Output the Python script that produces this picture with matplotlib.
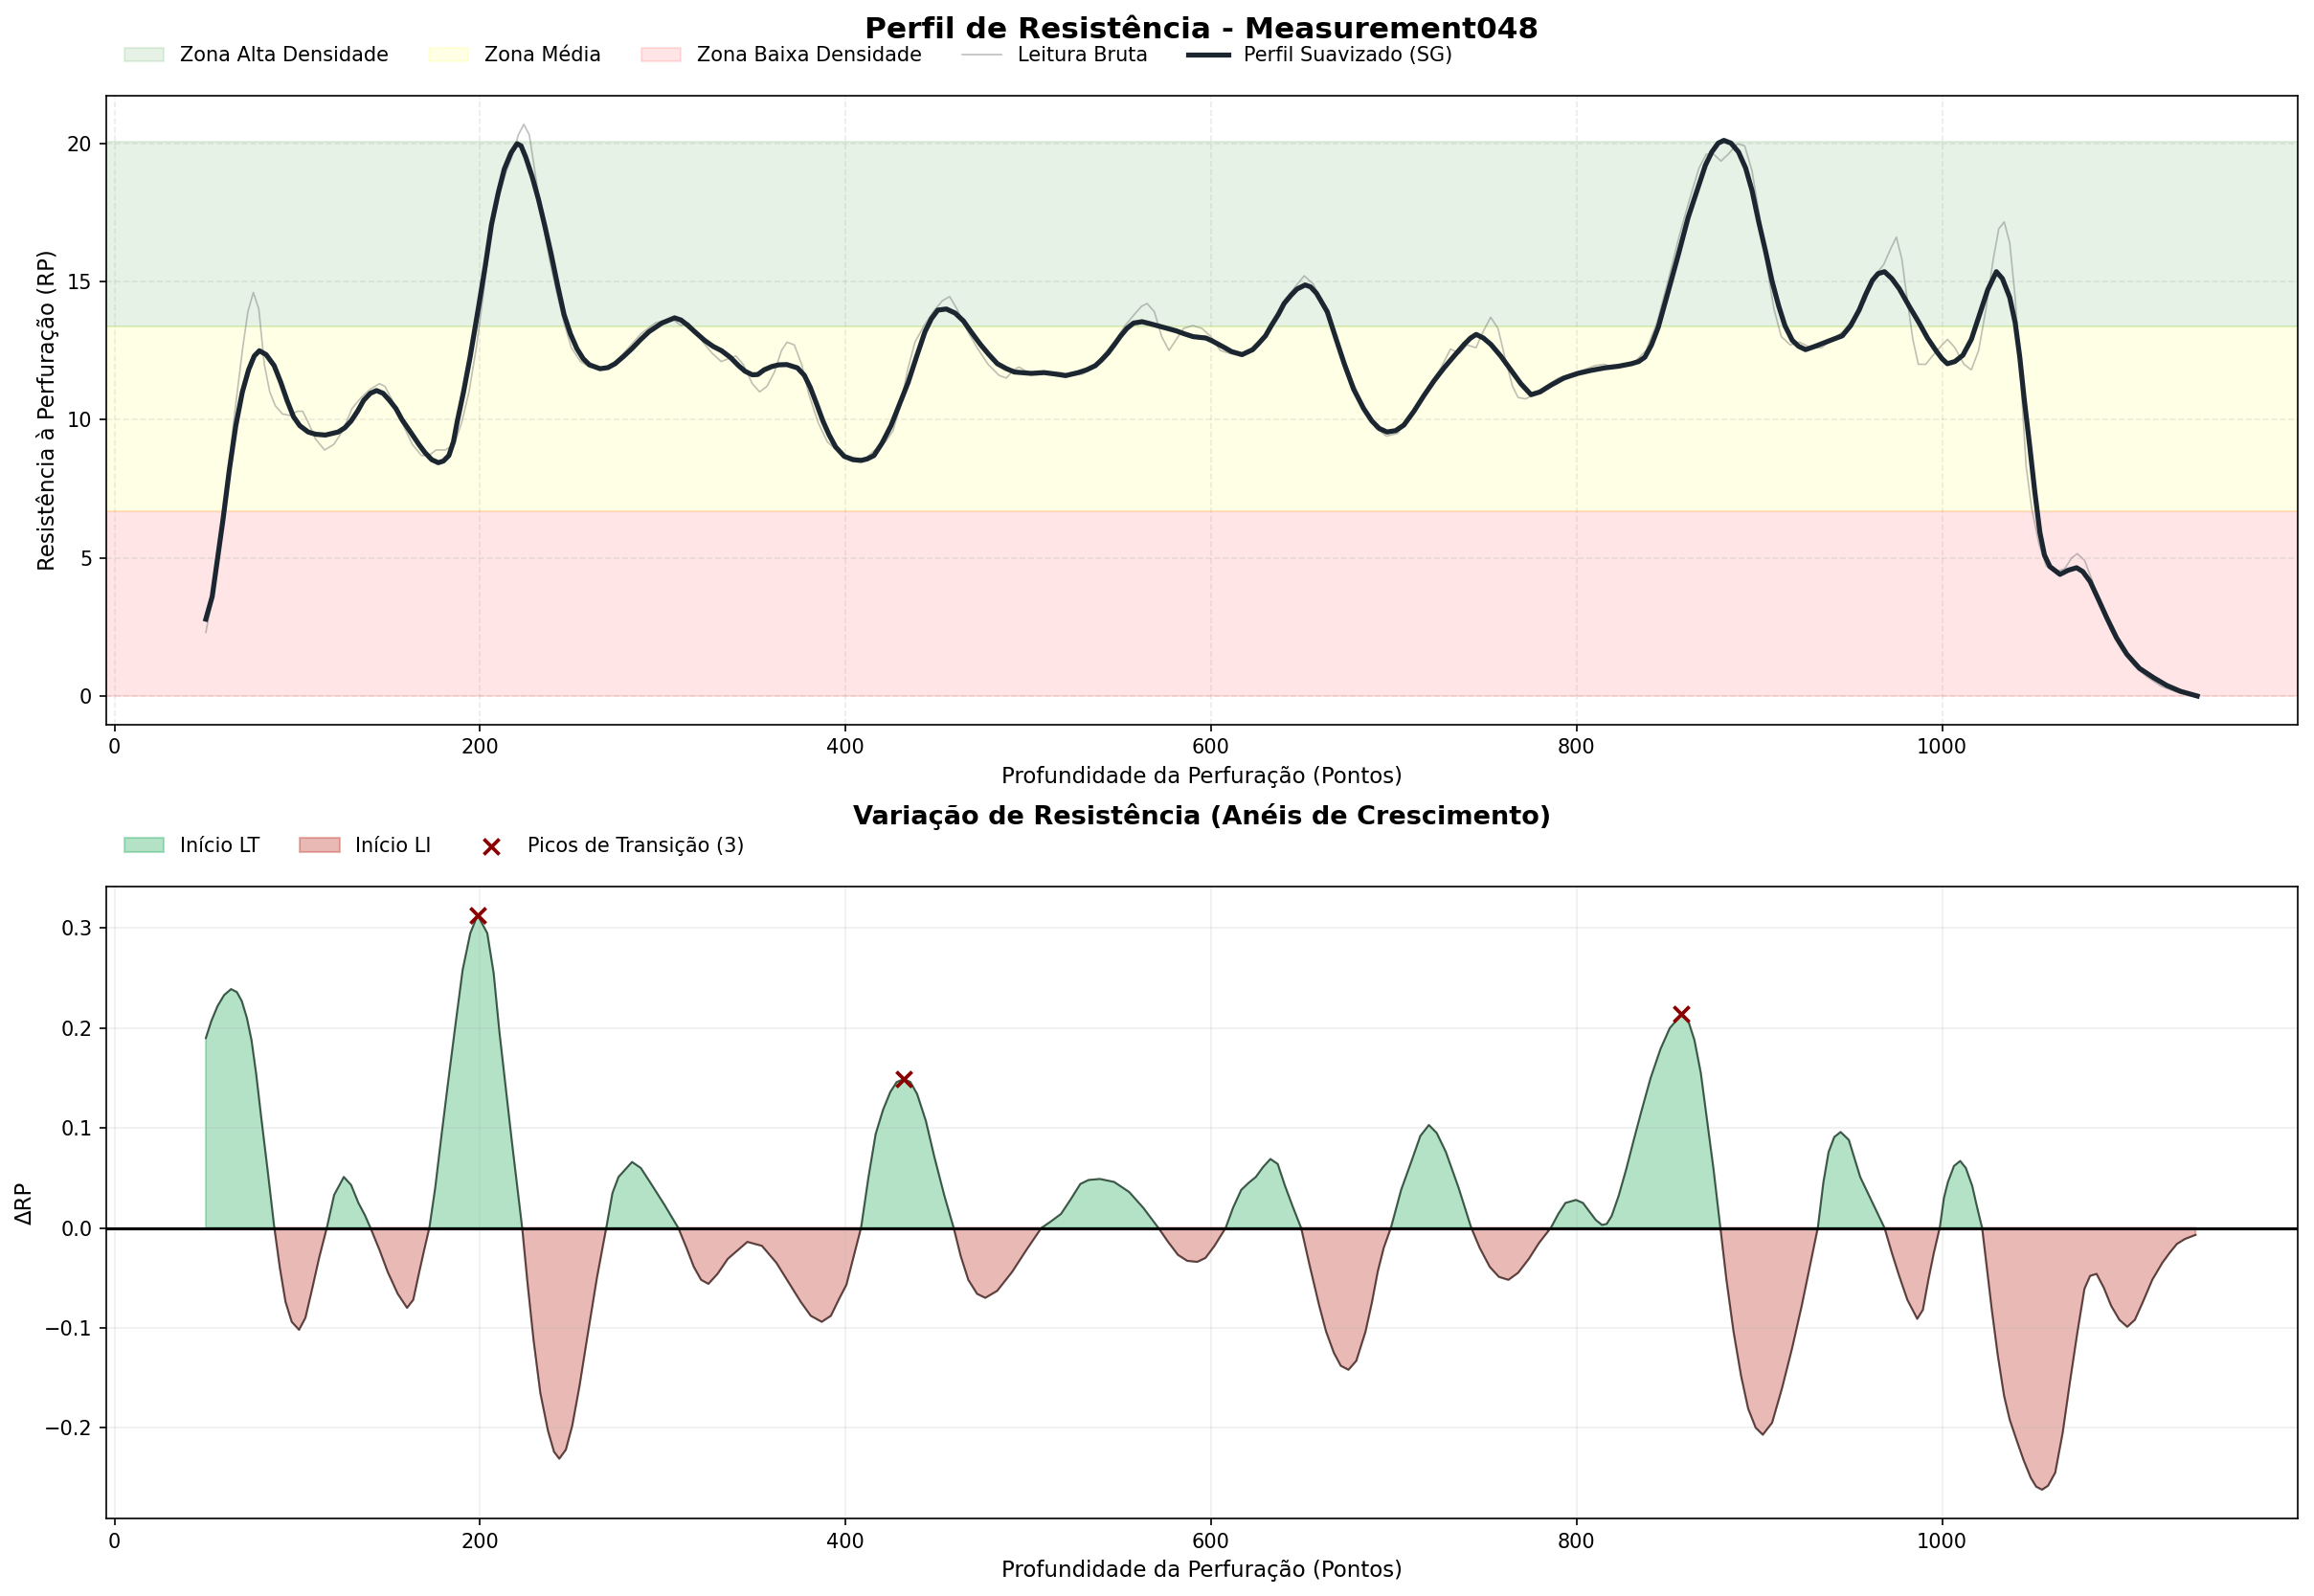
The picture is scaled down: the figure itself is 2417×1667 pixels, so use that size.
import numpy as np
import matplotlib
matplotlib.use("Agg")
import matplotlib.pyplot as plt

# ---- dados ----
# perfil suavizado (SG)
sg_x = [50, 53.5, 56.5, 59.4, 62.9, 66.4, 70, 73.4, 76.5, 79.3, 83, 87.4, 91, 94.4, 98, 101.4, 106, 110,
        115.4, 122.4, 126, 129.4, 133, 136.4, 140, 143.4, 147, 150.3, 154, 157.3, 162, 166.7, 170, 173.6,
        177.2, 180, 183, 185.5, 187.6, 191, 194.6, 199.3, 203, 206.3, 210, 213.3, 217, 220.3, 222.5, 225,
        228.5, 232, 235.5, 239, 242.5, 246, 249.5, 253, 256.5, 259.9, 265.7, 270, 273.9, 278.5, 283.2, 288,
        292.5, 299.5, 306.5, 310, 313.5, 318, 322.8, 327.5, 332.2, 337, 341.5, 345, 349, 352, 355.5, 359.7,
        363.5, 367.9, 373.7, 377.5, 380.7, 384, 387.7, 391, 394.6, 399.3, 404, 408.6, 412, 415.6, 420,
        424.9, 429.5, 434.2, 439, 443.5, 447, 450.5, 455.2, 460, 464.5, 469, 473.8, 478.5, 483.1, 487.8,
        492.4, 501.7, 508.7, 514.5, 520.4, 527.4, 532, 536.7, 540, 543.7, 547, 550.6, 554, 557.6, 562.3,
        566.5, 571.6, 576, 580.9, 585.5, 590.2, 597.2, 600.5, 604.2, 607.5, 611.2, 617, 622.8, 626, 629.8,
        633, 636.8, 640, 643.8, 647, 651.5, 654.5, 657.7, 663.6, 668.5, 673, 678, 683.5, 688, 692, 696.3,
        701, 705.5, 711, 716.5, 722, 727.5, 733, 738.5, 742, 745.1, 749, 753.1, 758.5, 764.1, 769.5, 775.1,
        780, 786.1, 793, 800.7, 808, 815.4, 823, 830, 834, 837.4, 841, 844.7, 850, 855.7, 861, 866.7, 870.5,
        874, 877.5, 880.6, 884.5, 888.6, 892.5, 896, 899.5, 903.3, 907, 910.6, 914, 918, 921.5, 925.3,
        930.5, 936.3, 941, 945.4, 950, 954.6, 958, 961.9, 965, 968.5, 972.5, 976.6, 982, 987.5, 992, 996.7,
        1000, 1002.9, 1007, 1011.4, 1016, 1020.5, 1025, 1029.7, 1033, 1037, 1040, 1042.5, 1045, 1048,
        1050.7, 1053.5, 1056, 1059, 1064.5, 1069, 1073.6, 1077, 1081, 1085.5, 1090.1, 1095.5, 1101.1, 1108,
        1115.8, 1123, 1130.4, 1139.6]
sg_y = [2.78, 3.6, 5.0, 6.38, 8.2, 9.78, 11.0, 11.8, 12.3, 12.49, 12.35, 11.95, 11.35, 10.7, 10.1, 9.78, 9.55, 9.47,
        9.44, 9.55, 9.7, 9.94, 10.3, 10.7, 10.95, 11.05, 10.95, 10.71, 10.4, 10.0, 9.55, 9.09, 8.8, 8.55,
        8.44, 8.5, 8.7, 9.2, 9.94, 11.0, 12.26, 14.1, 15.6, 17.05, 18.2, 19.06, 19.65, 19.98, 19.9, 19.5,
        18.8, 17.97, 17.0, 15.97, 14.85, 13.8, 13.1, 12.57, 12.2, 11.98, 11.84, 11.88, 12.02, 12.28, 12.57, 12.9,
        13.18, 13.49, 13.68, 13.6, 13.42, 13.15, 12.87, 12.65, 12.49, 12.25, 11.95, 11.75, 11.62, 11.63, 11.8, 11.92,
        11.98, 11.99, 11.87, 11.6, 11.17, 10.6, 9.94, 9.45, 9.01, 8.67, 8.55, 8.52, 8.58, 8.7, 9.15,
        9.78, 10.55, 11.33, 12.3, 13.18, 13.65, 13.96, 14.0, 13.85, 13.57, 13.15, 12.72, 12.35, 12.02, 11.85,
        11.72, 11.67, 11.7, 11.65, 11.59, 11.7, 11.8, 11.95, 12.15, 12.41, 12.7, 13.03, 13.3, 13.49, 13.54,
        13.47, 13.38, 13.3, 13.21, 13.1, 13.0, 12.95, 12.85, 12.72, 12.6, 12.46, 12.35, 12.53, 12.75, 13.03,
        13.4, 13.8, 14.2, 14.5, 14.72, 14.87, 14.8, 14.57, 13.9, 12.9, 12.0, 11.1, 10.4, 9.95, 9.68, 9.55,
        9.6, 9.8, 10.3, 10.87, 11.4, 11.87, 12.3, 12.72, 12.95, 13.08, 12.95, 12.72, 12.3, 11.79, 11.3, 10.9,
        11.0, 11.25, 11.5, 11.67, 11.78, 11.87, 11.93, 12.02, 12.1, 12.26, 12.7, 13.34, 14.6, 15.97, 17.3, 18.44, 19.2,
        19.68, 20.0, 20.1, 20.0, 19.68, 19.1, 18.29, 17.2, 16.12, 15.0, 14.11, 13.4, 12.87, 12.65, 12.53,
        12.65, 12.8, 12.92, 13.03, 13.4, 13.96, 14.5, 15.04, 15.28, 15.35, 15.1, 14.73, 14.1, 13.49, 12.95, 12.49,
        12.2, 12.02, 12.1, 12.33, 12.9, 13.8, 14.7, 15.35, 15.1, 14.42, 13.5, 12.26, 10.7, 9.01,
        7.4, 5.92, 5.1, 4.68, 4.4, 4.55, 4.64, 4.5, 4.14, 3.5, 2.83, 2.1, 1.51, 1.0,
        0.66, 0.38, 0.17, 0.0]

# leitura bruta
raw_x = [50, 55, 60, 65, 70, 73, 76, 79, 82, 85, 88, 92, 96, 100, 103, 106, 110, 115, 120, 125, 130, 135, 140,
         145, 148, 152, 158, 163, 168, 172, 176, 181, 186, 190, 194, 198, 202, 206, 210, 214, 218, 221, 224,
         227, 230, 234, 238, 242, 246, 250, 255, 260, 266, 272, 280, 288, 296, 302, 306, 310, 314, 318, 322,
         327, 332, 336, 340, 344, 349, 353, 357, 361, 365, 368, 372, 376, 380, 385, 390, 395, 400, 406, 411,
         416, 422, 426, 430, 434, 438, 443, 448, 453, 457, 461, 466, 472, 478, 484, 488, 492, 495, 500, 506,
         512, 518, 524, 530, 536, 542, 548, 553, 558, 562, 565, 569, 573, 577, 581, 585, 590, 595, 600, 605,
         610, 616, 622, 628, 634, 640, 646, 651, 656, 661, 666, 672, 678, 684, 690, 696, 702, 708, 714, 720,
         726, 731, 736, 740, 745, 749, 753, 757, 761, 765, 768, 772, 777, 783, 790, 797, 804, 810, 815, 820,
         826, 832, 838, 844, 850, 856, 862, 867, 871, 875, 879, 883, 888, 892, 896, 900, 904, 908, 912, 917,
         922, 928, 934, 940, 946, 952, 958, 963, 968, 972, 975, 978, 981, 984, 987, 991, 996, 1000, 1003,
         1007, 1012, 1016, 1020, 1024, 1028, 1031, 1034, 1037, 1040, 1043, 1046, 1049, 1053, 1057, 1062,
         1067, 1071, 1074, 1078, 1082, 1087, 1092, 1098, 1105, 1112, 1120, 1128, 1134, 1140]
raw_y = [2.3, 4.0, 6.6, 9.8, 12.5, 13.9, 14.6, 14.0, 12.0, 11.0, 10.5, 10.2, 10.15, 10.3, 10.3, 9.9, 9.3, 8.9, 9.1,
         9.6, 10.4, 10.8, 11.1, 11.3, 11.2, 10.7, 9.8, 9.1, 8.7, 8.7, 8.9, 8.9, 9.1, 9.9, 11.0, 12.6, 14.6, 16.8,
         18.0, 18.9, 19.6, 20.3, 20.68, 20.3, 19.0, 17.3, 15.8, 14.6, 13.5, 12.6, 12.1, 11.9, 11.85, 11.95, 12.5,
         13.1, 13.5, 13.6, 13.6, 13.4, 13.5, 13.2, 12.8, 12.4, 12.1, 12.2, 12.3, 12.0, 11.3, 11.0, 11.2, 11.7,
         12.5, 12.8, 12.7, 12.0, 10.9, 9.9, 9.2, 8.9, 8.7, 8.6, 8.6, 8.9, 9.2, 9.6, 10.5, 11.8, 12.8, 13.4, 13.9,
         14.3, 14.45, 14.0, 13.3, 12.6, 12.0, 11.6, 11.5, 11.8, 11.9, 11.7, 11.65, 11.7, 11.7, 11.6, 11.65, 11.95,
         12.4, 12.9, 13.4, 13.8, 14.1, 14.2, 13.9, 13.0, 12.5, 12.9, 13.3, 13.4, 13.3, 13.0, 12.5, 12.4, 12.3,
         12.5, 12.9, 13.6, 14.3, 14.8, 15.2, 14.9, 14.2, 13.3, 12.3, 11.3, 10.4, 9.7, 9.4, 9.5, 10.0, 10.6, 11.3,
         11.9, 12.55, 12.4, 12.7, 12.6, 13.2, 13.7, 13.3, 12.2, 11.2, 10.8, 10.75, 10.9, 11.2, 11.5, 11.65, 11.8,
         11.95, 12.0, 11.9, 12.0, 12.1, 12.5, 13.5, 15.0, 16.6, 18.0, 19.1, 19.6, 19.6, 19.35, 19.6, 19.98, 19.9,
         19.0, 17.4, 15.6, 14.0, 13.0, 12.7, 12.8, 12.6, 12.6, 12.9, 13.2, 13.7, 14.3, 15.2, 15.6, 16.2, 16.6,
         15.8, 14.3, 12.9, 12.0, 12.0, 12.4, 12.7, 12.9, 12.6, 12.0, 11.8, 12.5, 14.0, 15.8, 16.9, 17.15, 16.4,
         14.4, 11.5, 8.3, 6.8, 5.5, 4.7, 4.5, 4.6, 5.0, 5.15, 4.9, 4.2, 3.2, 2.4, 1.7, 1.1, 0.7, 0.35, 0.15,
         0.05, 0.0]

# variação de resistência (ΔRP)
d_x = [50, 53, 56.4, 60, 63.8, 67, 69.7, 72.5, 75, 77.5, 80.3, 84, 87.5, 90.5, 93.6, 97, 101, 104.5, 108.2, 112,
       116.2, 120.2, 125.5, 129.5, 133.5, 137, 140.1, 145, 149.5, 155, 160.1, 163.5, 166.8, 169.5, 172.3, 175.5,
       178.7, 182.5, 186.7, 190.5, 194.7, 198.7, 204, 207.5, 210.6, 214, 217.3, 220.3, 223.1, 226, 229.3,
       233, 237.2, 240.5, 243.4, 247, 250.5, 254.5, 258.5, 264, 269.1, 272.5, 275.8, 283.2, 288, 293, 301,
       308.5, 313, 317, 321, 325, 330, 335.6, 346.3, 354.3, 362.2, 369, 375.5, 381, 387, 392, 396.8, 400.5,
       404, 408.5, 412.5, 416.5, 420.5, 424.5, 428, 432, 435.5, 439.2, 444, 448.5, 454, 459.2, 463, 467.2,
       472, 476.5, 483, 491.2, 499, 507.2, 512, 517.9, 523, 528.5, 533, 539.2, 547, 555.2, 563, 571.2,
       576.5, 581.9, 587, 592.5, 597, 601.9, 608, 612, 616.5, 620.5, 624.5, 628.5, 632.5, 636.5, 640.5, 645,
       649.3, 654, 659.2, 663, 667.2, 671, 675.2, 679.5, 684.5, 688, 691.2, 694.5, 698.4, 704, 709.9, 714.5,
       719.2, 723.5, 728.5, 735.5, 742.4, 747, 752.5, 757.5, 762.7, 768, 773.9, 779.5, 785.9, 790, 793.9,
       799.7, 803.5, 807.2, 810.5, 813.9, 816.5, 819.2, 823, 827.2, 831, 835.2, 840.5, 845.9, 851, 857.1,
       861, 864.5, 868, 871.2, 875, 878.7, 882, 885.9, 890, 893.9, 898, 901.9, 907, 912.5, 918, 923.2, 927.5,
       932, 935, 937.9, 941, 944.5, 949, 955.2, 962, 968.5, 972.5, 976.5, 981, 986.4, 989.5, 992.5, 995.5,
       998.7, 1001, 1003.2, 1006.5, 1009.9, 1013, 1016.5, 1019, 1021.9, 1024.5, 1027.2, 1030.5, 1033.9,
       1037, 1040.5, 1044.5, 1048.5, 1051.5, 1054.7, 1058, 1061.9, 1066, 1069.9, 1074, 1077.9, 1081, 1084.5,
       1088.5, 1092.5, 1097, 1101.3, 1105.5, 1109.9, 1115, 1120.5, 1124.5, 1128.5, 1133, 1138.7]
d_y = [0.190, 0.207, 0.222, 0.233, 0.239, 0.236, 0.227, 0.210, 0.188, 0.155, 0.111, 0.055, 0.0, -0.040, -0.074,
       -0.094, -0.102, -0.090, -0.061, -0.030, 0.0, 0.033, 0.051, 0.043, 0.025, 0.013, 0.0, -0.022, -0.044,
       -0.066, -0.080, -0.072, -0.044, -0.022, 0.0, 0.040, 0.089, 0.145, 0.205, 0.258, 0.295, 0.313, 0.295,
       0.255, 0.197, 0.142, 0.089, 0.043, 0.0, -0.055, -0.112, -0.165, -0.203, -0.224, -0.231, -0.222, -0.198,
       -0.158, -0.112, -0.050, 0.0, 0.035, 0.051, 0.066, 0.060, 0.046, 0.023, 0.0, -0.020, -0.039, -0.052,
       -0.056, -0.046, -0.031, -0.014, -0.018, -0.035, -0.055, -0.074, -0.088, -0.094, -0.088, -0.070, -0.057,
       -0.032, 0.0, 0.050, 0.094, 0.118, 0.136, 0.146, 0.149, 0.146, 0.134, 0.107, 0.072, 0.033, 0.0, -0.028,
       -0.052, -0.066, -0.070, -0.063, -0.044, -0.022, 0.0, 0.006, 0.014, 0.028, 0.044, 0.048, 0.049, 0.046,
       0.036, 0.020, 0.0, -0.014, -0.027, -0.033, -0.034, -0.030, -0.018, 0.0, 0.020, 0.038, 0.045, 0.051,
       0.061, 0.069, 0.064, 0.042, 0.020, 0.0, -0.038, -0.078, -0.104, -0.125, -0.138, -0.142, -0.133, -0.104,
       -0.075, -0.044, -0.020, 0.0, 0.038, 0.068, 0.092, 0.103, 0.095, 0.076, 0.040, 0.0, -0.020, -0.039,
       -0.049, -0.052, -0.045, -0.031, -0.015, 0.0, 0.014, 0.025, 0.028, 0.025, 0.016, 0.008, 0.003, 0.004,
       0.012, 0.032, 0.059, 0.086, 0.115, 0.150, 0.179, 0.200, 0.213, 0.208, 0.188, 0.155, 0.111, 0.058, 0.0,
       -0.052, -0.104, -0.148, -0.181, -0.200, -0.207, -0.195, -0.160, -0.120, -0.078, -0.040, 0.0, 0.045, 0.076,
       0.091, 0.096, 0.088, 0.051, 0.025, 0.0, -0.025, -0.048, -0.072, -0.091, -0.082, -0.052, -0.025, 0.0,
       0.030, 0.046, 0.062, 0.067, 0.060, 0.042, 0.022, 0.0, -0.040, -0.082, -0.128, -0.168, -0.192, -0.211,
       -0.232, -0.250, -0.259, -0.262, -0.258, -0.245, -0.205, -0.155, -0.105, -0.061, -0.048, -0.046, -0.060,
       -0.078, -0.092, -0.099, -0.092, -0.074, -0.052, -0.035, -0.025, -0.016, -0.011, -0.007]

peak_x = [198.7, 432, 857.1]
peak_y = [0.313, 0.149, 0.214]

zone_lims = [0, 6.68, 13.36, 20.05]
zone_names = ['Zona Baixa Densidade', 'Zona Média', 'Zona Alta Densidade']
zone_cols = ['red', 'yellow', 'green']

sg_x = np.array(sg_x); sg_y = np.array(sg_y)
d_x = np.array(d_x); d_y = np.array(d_y)

fig = plt.figure(figsize=(2417/150, 1667/150), dpi=150)
ax1 = fig.add_axes([0.0459, 0.546, 0.947, 0.394])
ax2 = fig.add_axes([0.0459, 0.0486, 0.947, 0.396])

# --- painel superior ---
spans = {}
for i in range(3):
    spans[zone_names[i]] = ax1.axhspan(zone_lims[i], zone_lims[i+1], color=zone_cols[i], alpha=0.1)
raw_line, = ax1.plot(raw_x, raw_y, color='gray', alpha=0.5, lw=0.8)
sg_line, = ax1.plot(sg_x, sg_y, color='#1b2631', lw=2.5)
ax1.set_xlabel('Profundidade da Perfuração (Pontos)', fontsize=11)
ax1.set_ylabel('Resistência à Perfuração (RP)', fontsize=11)
ax1.set_title('Perfil de Resistência - Measurement048', fontsize=15, fontweight='bold', pad=29)
ax1.grid(True, linestyle='--', alpha=0.25)
ax1.legend([spans['Zona Alta Densidade'], spans['Zona Média'], spans['Zona Baixa Densidade'], raw_line, sg_line],
           ['Zona Alta Densidade', 'Zona Média', 'Zona Baixa Densidade', 'Leitura Bruta', 'Perfil Suavizado (SG)'],
           loc='lower left', bbox_to_anchor=(0, 1.02), ncol=5, frameon=False, fontsize=10)

# --- painel inferior ---
ax2.fill_between(d_x, d_y, 0, where=d_y >= 0, interpolate=True, color='#27ae60', alpha=0.35, label='Início LT')
ax2.fill_between(d_x, d_y, 0, where=d_y <= 0, interpolate=True, color='#c0392b', alpha=0.35, label='Início LI')
ax2.plot(d_x, d_y, color='black', lw=1, alpha=0.6)
ax2.axhline(0, color='black', lw=1.5)
ax2.scatter(peak_x, peak_y, marker='x', color='darkred', s=60, linewidths=1.8, zorder=5,
            label=f'Picos de Transição ({len(peak_x)})')
ax2.set_xlim(ax1.get_xlim())
ax2.set_xlabel('Profundidade da Perfuração (Pontos)', fontsize=11)
ax2.set_ylabel('ΔRP', fontsize=11)
ax2.set_title('Variação de Resistência (Anéis de Crescimento)', fontsize=13, fontweight='bold', pad=31)
ax2.grid(True, alpha=0.2)
ax2.legend(loc='lower left', bbox_to_anchor=(0, 1.02), ncol=3, frameon=False, fontsize=10)

fig.savefig('out.png', dpi=150)
